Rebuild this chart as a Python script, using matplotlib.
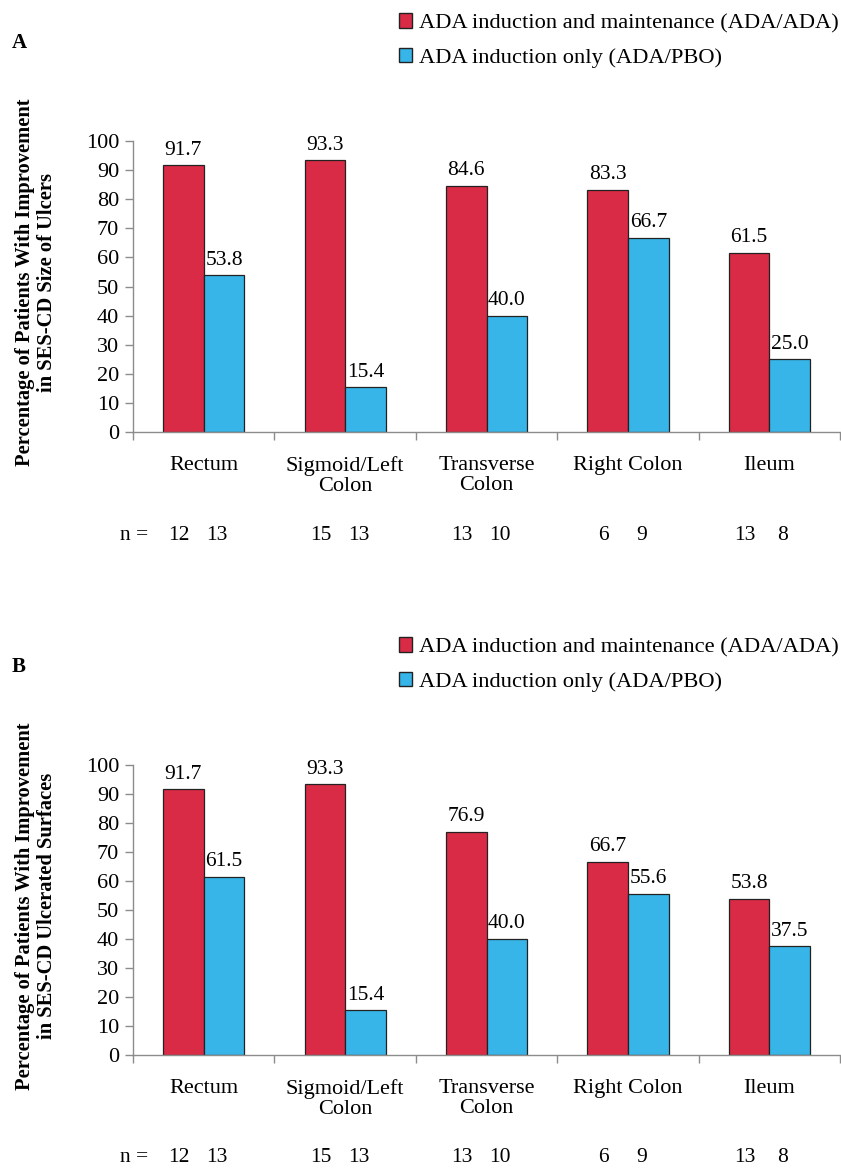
import numpy as np
import matplotlib.pyplot as plt
from matplotlib.patches import Patch
from matplotlib.transforms import blended_transform_factory

plt.rcParams['font.family'] = ['Liberation Serif', 'DejaVu Serif']

# segments and sample sizes
segments = ['Rectum', 'Sigmoid/Left\nColon', 'Transverse\nColon', 'Right Colon', 'Ileum']
n_ada_ada = [12, 15, 13, 6, 13]
n_ada_pbo = [13, 13, 10, 9, 8]

# panel A: improvement in SES-CD size of ulcers (%)
size_ada_ada = [91.7, 93.3, 84.6, 83.3, 61.5]
size_ada_pbo = [53.8, 15.4, 40.0, 66.7, 25.0]

# panel B: improvement in SES-CD ulcerated surfaces (%)
surf_ada_ada = [91.7, 93.3, 76.9, 66.7, 53.8]
surf_ada_pbo = [61.5, 15.4, 40.0, 55.6, 37.5]

series_names = ['ADA induction and maintenance (ADA/ADA)', 'ADA induction only (ADA/PBO)']
red = '#D92B45'
blue = '#37B5E8'
grey = '#8C8C8C'
edge = '#222222'

W, H = 841, 1171
fig = plt.figure(figsize=(W / 100, H / 100), dpi=100)


def fy(px):
    return 1 - px / H


def panel(letter, ada, pbo, ylabel, y_top, y_zero):
    ax = fig.add_axes([133 / W, fy(y_zero), (W - 133) / W - 0.001, (y_zero - y_top) / H])
    x = np.arange(len(segments))
    w = 0.287
    b1 = ax.bar(x - w / 2, ada, w, color=red, edgecolor=edge, linewidth=0.9)
    b2 = ax.bar(x + w / 2, pbo, w, color=blue, edgecolor=edge, linewidth=0.9)
    for bars, vals in ((b1, ada), (b2, pbo)):
        for r, v in zip(bars, vals):
            ax.annotate(f'{v:.1f}', (r.get_x() + r.get_width() / 2, v),
                        xytext=(0, 4), textcoords='offset points',
                        ha='center', va='bottom', fontsize=15.5)

    ax.set_xlim(-0.5, len(segments) - 0.5)
    ax.set_ylim(0, 100)
    ax.set_yticks(range(0, 101, 10))
    ax.set_xticks(np.arange(len(segments) + 1) - 0.5)
    ax.set_xticklabels([])
    ax.set_xticks(x, minor=True)
    ax.set_xticklabels(segments, minor=True, fontsize=16, linespacing=1.1)
    ax.tick_params(axis='x', which='minor', length=0, pad=17)
    ax.tick_params(axis='both', which='major', length=6, color=grey, width=1)
    ax.tick_params(axis='y', labelsize=16, pad=4)
    for s in ('top', 'right'):
        ax.spines[s].set_visible(False)
    for s in ('left', 'bottom'):
        ax.spines[s].set_color(grey)
        ax.spines[s].set_linewidth(1)

    # n row under each bar
    tr = blended_transform_factory(ax.transData, fig.transFigure)
    ny = fy(y_zero + 103)
    ax.text(-0.49, ny, 'n =', transform=tr, ha='center', va='center', fontsize=15.5)
    for i in range(len(segments)):
        ax.text(x[i] - w / 2 - 0.03, ny, str(n_ada_ada[i]), transform=tr,
                ha='center', va='center', fontsize=15.5)
        ax.text(x[i] + w / 2 - 0.05, ny, str(n_ada_pbo[i]), transform=tr,
                ha='center', va='center', fontsize=15.5)

    fig.text(36 / W, fy((y_top + y_zero) / 2 - 4), ylabel, rotation=90,
             ha='center', va='center', multialignment='center',
             fontsize=14.8, fontweight='bold', linespacing=1.15)

    fig.text(12 / W, fy(y_top - 98), letter, fontsize=15, fontweight='bold', va='center', ha='left')

    handles = [Patch(facecolor=red, edgecolor=edge), Patch(facecolor=blue, edgecolor=edge)]
    fig.legend(handles, series_names, loc='upper right', bbox_to_anchor=(1.0, fy(y_top - 130)),
               frameon=False, fontsize=16.2, handlelength=0.6, handleheight=0.6,
               handletextpad=0.3, labelspacing=0.65, borderaxespad=0, borderpad=0.1)
    return ax


panel('A', size_ada_ada, size_ada_pbo,
      'Percentage of Patients With Improvement\nin SES-CD Size of Ulcers', 141, 432)
panel('B', surf_ada_ada, surf_ada_pbo,
      'Percentage of Patients With Improvement\nin SES-CD Ulcerated Surfaces', 765, 1055)

fig.savefig('out.png', dpi=100)
